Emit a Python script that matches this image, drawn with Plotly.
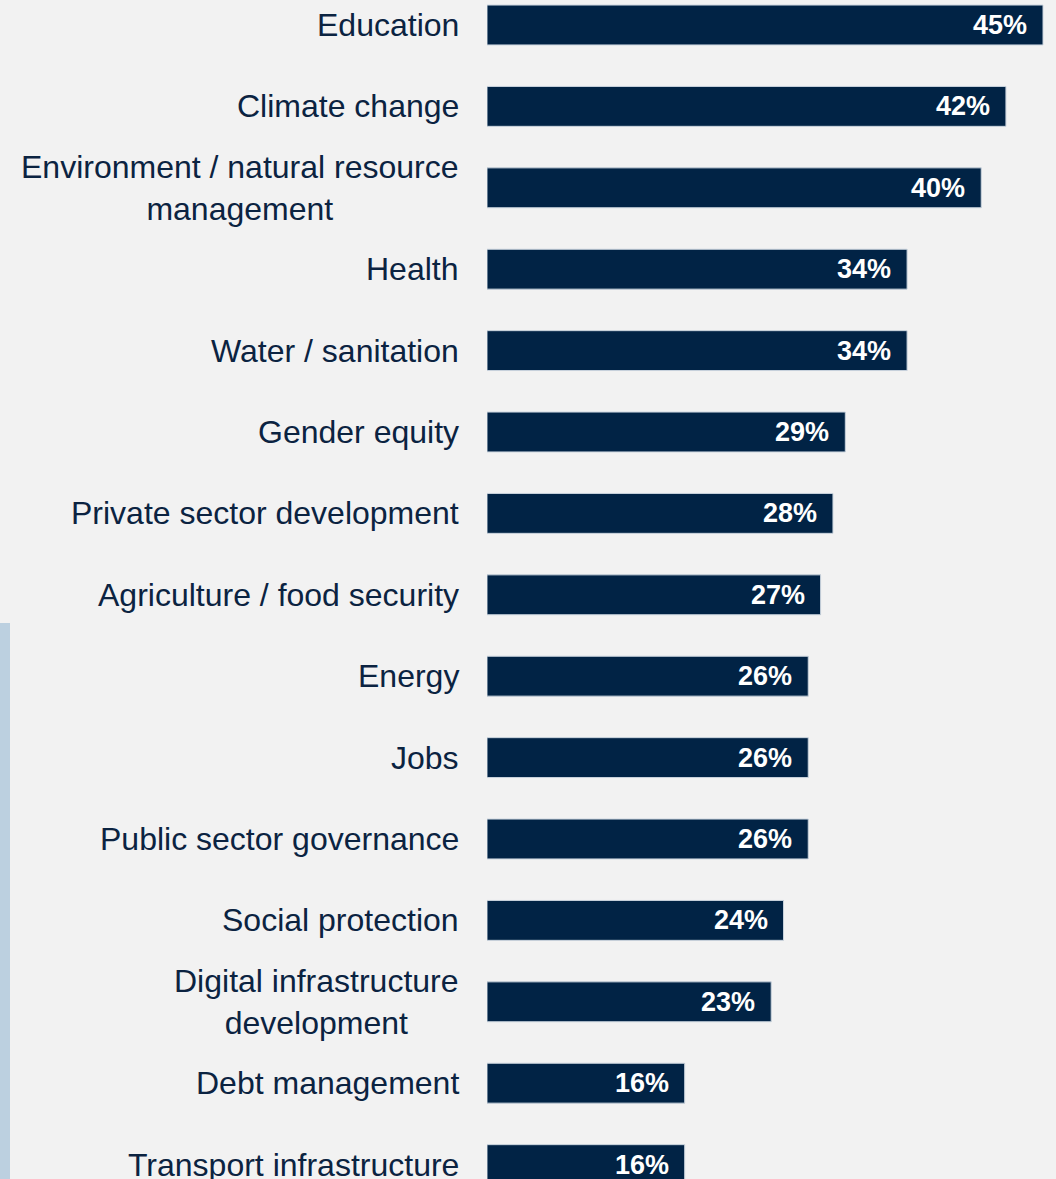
import plotly.graph_objects as go

categories = [
    "Education", "Climate change", "Environment / natural resource<br>management",
    "Health", "Water / sanitation", "Gender equity", "Private sector development",
    "Agriculture / food security", "Energy", "Jobs", "Public sector governance",
    "Social protection", "Digital infrastructure<br>development", "Debt management",
    "Transport infrastructure",
]
values = [45, 42, 40, 34, 34, 29, 28, 27, 26, 26, 26, 24, 23, 16, 16]
value_labels = [f"{v}%" for v in values]

NAVY = "#012345"
TEXT = "#0b2341"
BG = "#f2f2f2"

W, H = 1056, 1179
LEFT = 487
plot_w = W - LEFT
px_per_unit = 556 / 45.0
xmax = plot_w / px_per_unit
step = 81.4
top_center = 25
y_top = -top_center / step
y_bot = (H - top_center) / step

fig = go.Figure()
fig.add_trace(go.Bar(
    x=values, y=categories, orientation="h",
    marker=dict(color=NAVY, line=dict(color="#c9d3dd", width=1)),
    width=0.49, hoverinfo="skip", showlegend=False,
))

for c, v, t in zip(categories, values, value_labels):
    fig.add_annotation(x=v, y=c, xref="x", yref="y", text=f"<b>{t}</b>",
                       showarrow=False, xanchor="right", xshift=-14,
                       font=dict(family="Liberation Sans, Arial", size=27, color="white"))
    fig.add_annotation(x=0, y=c, xref="x", yref="y", text=c,
                       showarrow=False, xanchor="right", align="center", xshift=-26,
                       font=dict(family="Liberation Sans, Arial", size=32, color=TEXT))

fig.add_shape(type="rect", xref="paper", yref="paper",
              x0=-LEFT / plot_w, x1=-(LEFT - 10) / plot_w,
              y0=-0.01, y1=(H - 623) / H,
              fillcolor="#bcd0e0", line=dict(width=0), layer="below")

fig.update_layout(
    width=W, height=H,
    margin=dict(l=LEFT, r=0, t=0, b=0, pad=0),
    paper_bgcolor=BG, plot_bgcolor=BG,
    xaxis=dict(range=[0, xmax], visible=False, fixedrange=True),
    yaxis=dict(type="category", categoryarray=categories, range=[y_bot, y_top],
               showticklabels=False, showgrid=False, zeroline=False, showline=False, ticks=""),
    bargap=0.5,
)

fig.write_html("out.html")
